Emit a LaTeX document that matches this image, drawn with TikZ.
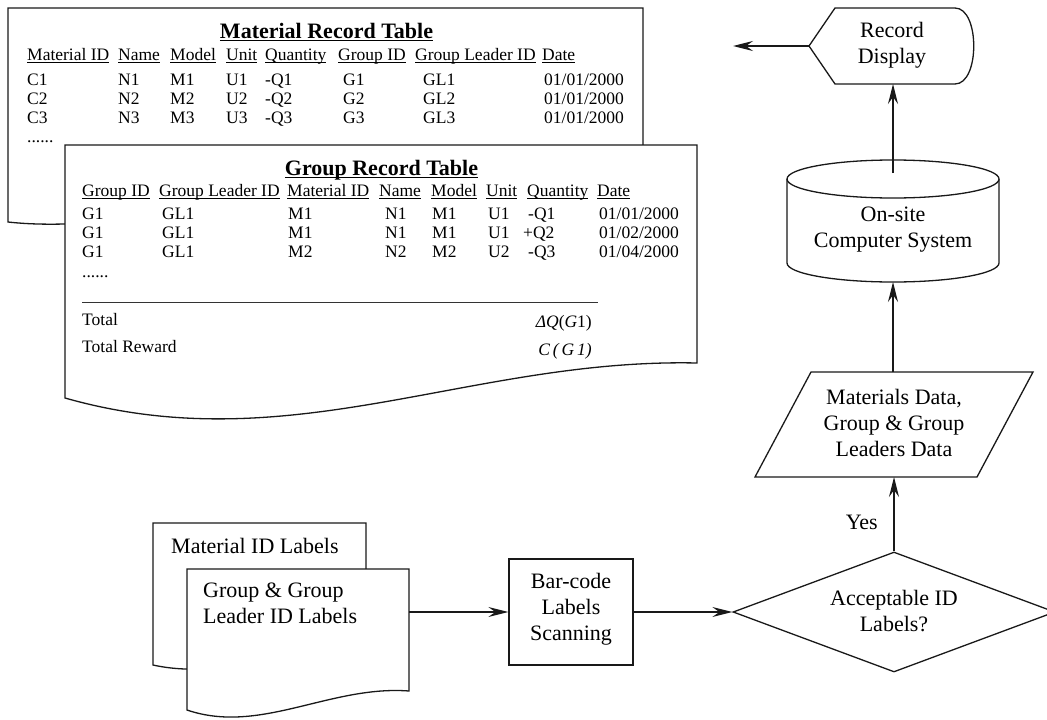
\documentclass[tikz,border=0pt]{standalone}
\usepackage{fontspec}
\setmainfont{Liberation Serif}
\usetikzlibrary{arrows.meta,shapes.geometric}
\newcommand\ulx[1]{\setbox0\hbox{#1}\rlap{\rule[-3.2pt]{\wd0}{0.9pt}}\box0}
\begin{document}
\begin{tikzpicture}[x=1pt,y=-1pt,
  ln/.style={draw=black!90, line width=1.3pt},
  cell/.style={anchor=base west, inner sep=0pt, font=\fontsize{17.5}{19}\selectfont},
  ttl/.style={anchor=base, inner sep=0pt, font=\fontsize{22}{26}\selectfont\bfseries},
  txt/.style={inner sep=0pt, align=center, font=\fontsize{22}{26}\selectfont},
  arr/.style={draw=black!90, line width=1.3pt, -{Stealth[length=20pt,width=10pt,inset=7pt]}}]
\useasboundingbox (0,0) rectangle (1047,720);

% ---------- Material record table document ----------
\path[ln, fill=white] (8,8) -- (643,8) -- (643,175) .. controls (400,160) and (150,238) .. (8,222) -- cycle;
% ---------- Group record table document ----------
\path[ln, fill=white] (65,145) -- (697,145) -- (697,363) .. controls (470,358) and (290,462) .. (65,398) -- cycle;

% Material table text
\node[ttl] (mtitle) at (326.5,38) {\ulx{Material Record Table}};
\foreach \x/\t [count=\j] in {27/{Material ID},118/{Name},170/{Model},226/{Unit},265/{Quantity},338/{Group ID},415/{Group Leader ID},542/{Date}}
  \node[cell] (mh\j) at (\x,60) {\ulx{\t}};
\foreach \r/\y in {1/85,2/104,3/123} {
  \node[cell] (mr\r-a) at (27,\y) {C\r};
  \node[cell] (mr\r-b) at (118,\y) {N\r};
  \node[cell] (mr\r-c) at (170,\y) {M\r};
  \node[cell] (mr\r-d) at (226,\y) {U\r};
  \node[cell] (mr\r-e) at (265,\y) {-Q\r};
  \node[cell] (mr\r-f) at (343,\y) {G\r};
  \node[cell] (mr\r-g) at (423,\y) {GL\r};
  \node[cell] (mr\r-h) at (544,\y) {01/01/2000};
}
\node[cell] (mdots) at (27,142) {......};

% Group table text
\node[ttl] (gtitle) at (381.5,175) {\ulx{Group Record Table}};
\foreach \x/\t [count=\j] in {82/{Group ID},159/{Group Leader ID},287/{Material ID},379/{Name},431/{Model},486/{Unit},527/{Quantity},597/{Date}}
  \node[cell] (gh\j) at (\x,196) {\ulx{\t}};
% row 1
\node[cell] (g1a) at (82,219) {G1};
\node[cell] (g1b) at (162,219) {GL1};
\node[cell] (g1c) at (288,219) {M1};
\node[cell] (g1d) at (385,219) {N1};
\node[cell] (g1e) at (432,219) {M1};
\node[cell] (g1f) at (488,219) {U1};
\node[cell] (g1g) at (528,219) {-Q1};
\node[cell] (g1h) at (599,219) {01/01/2000};
% row 2
\node[cell] (g2a) at (82,238) {G1};
\node[cell] (g2b) at (162,238) {GL1};
\node[cell] (g2c) at (288,238) {M1};
\node[cell] (g2d) at (385,238) {N1};
\node[cell] (g2e) at (432,238) {M1};
\node[cell] (g2f) at (488,238) {U1};
\node[cell] (g2g) at (523,238) {+Q2};
\node[cell] (g2h) at (599,238) {01/02/2000};
% row 3
\node[cell] (g3a) at (82,257) {G1};
\node[cell] (g3b) at (162,257) {GL1};
\node[cell] (g3c) at (288,257) {M2};
\node[cell] (g3d) at (385,257) {N2};
\node[cell] (g3e) at (432,257) {M2};
\node[cell] (g3f) at (488,257) {U2};
\node[cell] (g3g) at (528,257) {-Q3};
\node[cell] (g3h) at (599,257) {01/04/2000};
\node[cell] (gdots) at (82,277) {......};
\draw[line width=0.9pt, black!80] (82,302) -- (598,302);
\node[cell] (tot) at (82,325) {Total};
\node[cell] (totr) at (82,352) {Total Reward};
\node[cell, anchor=base east] (dq) at (592,327) {\textit{ΔQ}(\textit{G}1)};
\node[cell, anchor=base east] (cg) at (592,355) {\textit{C\,(\,G\,1)}};

% ---------- label documents ----------
\path[ln, fill=white] (153,523) -- (366,523) -- (366,650) .. controls (300,650) and (220,680) .. (153,665) -- cycle;
\node[txt, anchor=base west] (matlab) at (171,553) {Material ID Labels};
\path[ln, fill=white] (187,569) -- (409,569) -- (409,691) .. controls (330,685) and (260,735) .. (187,710) -- cycle;
\node[txt, align=left, anchor=west] (grplab) at (203,603.5) {Group \& Group\\Leader ID Labels};
\coordinate (docR) at (409,612);

% ---------- scanning box ----------
\node[ln, rectangle, minimum width=124, minimum height=106, inner sep=0pt] (bar) at (571,612) {};
\node[txt] (bart) at (571,609) {Bar-code\\Labels\\Scanning};

% ---------- decision ----------
\node[ln, diamond, minimum width=322, minimum height=120, inner sep=0pt] (dec) at (894,612) {};
\node[txt] (dect) at (894,611) {Acceptable ID\\Labels?};

% ---------- data parallelogram ----------
\path[ln, fill=white] (811,372) -- (1033,372) -- (977,477) -- (755,477) -- cycle;
\node[txt] (para) at (894,422.5) {Materials Data,\\Group \& Group\\Leaders Data};
\coordinate (paraT) at (893,372);
\coordinate (paraB) at (894,477);

% ---------- cylinder ----------
\path[ln, fill=white] (787,179) -- (787,263) arc[start angle=180, end angle=0, x radius=106, y radius=19] -- (999,179);
\path[ln, fill=white] (893,179) ellipse[x radius=106, y radius=19];
\node[txt] (cyl) at (893,230) {On-site\\Computer System};
\coordinate (cylT) at (893,173);
\coordinate (cylB) at (893,282);

% ---------- record display ----------
\path[ln, fill=white] (809,46) -- (835,8) -- (955,8) .. controls (980,8) and (980,84) .. (955,84) -- (835,84) -- cycle;
\node[txt] (disp) at (892,45.5) {Record\\Display};
\coordinate (dispL) at (809,46);
\coordinate (dispB) at (893,84);
\coordinate (outL) at (733,46);

% ---------- connectors ----------
\draw[arr] (docR) -- (bar.west);
\draw[arr] (bar.east) -- (dec.west);
\draw[arr] (dec.north) -- (paraB);
\draw[arr] (paraT) -- (cylB);
\draw[arr] (cylT) -- (dispB);
\draw[arr] (dispL) -- (outL);
\node[txt, anchor=base east] (yes) at (878,529) {Yes};
\end{tikzpicture}
\end{document}
